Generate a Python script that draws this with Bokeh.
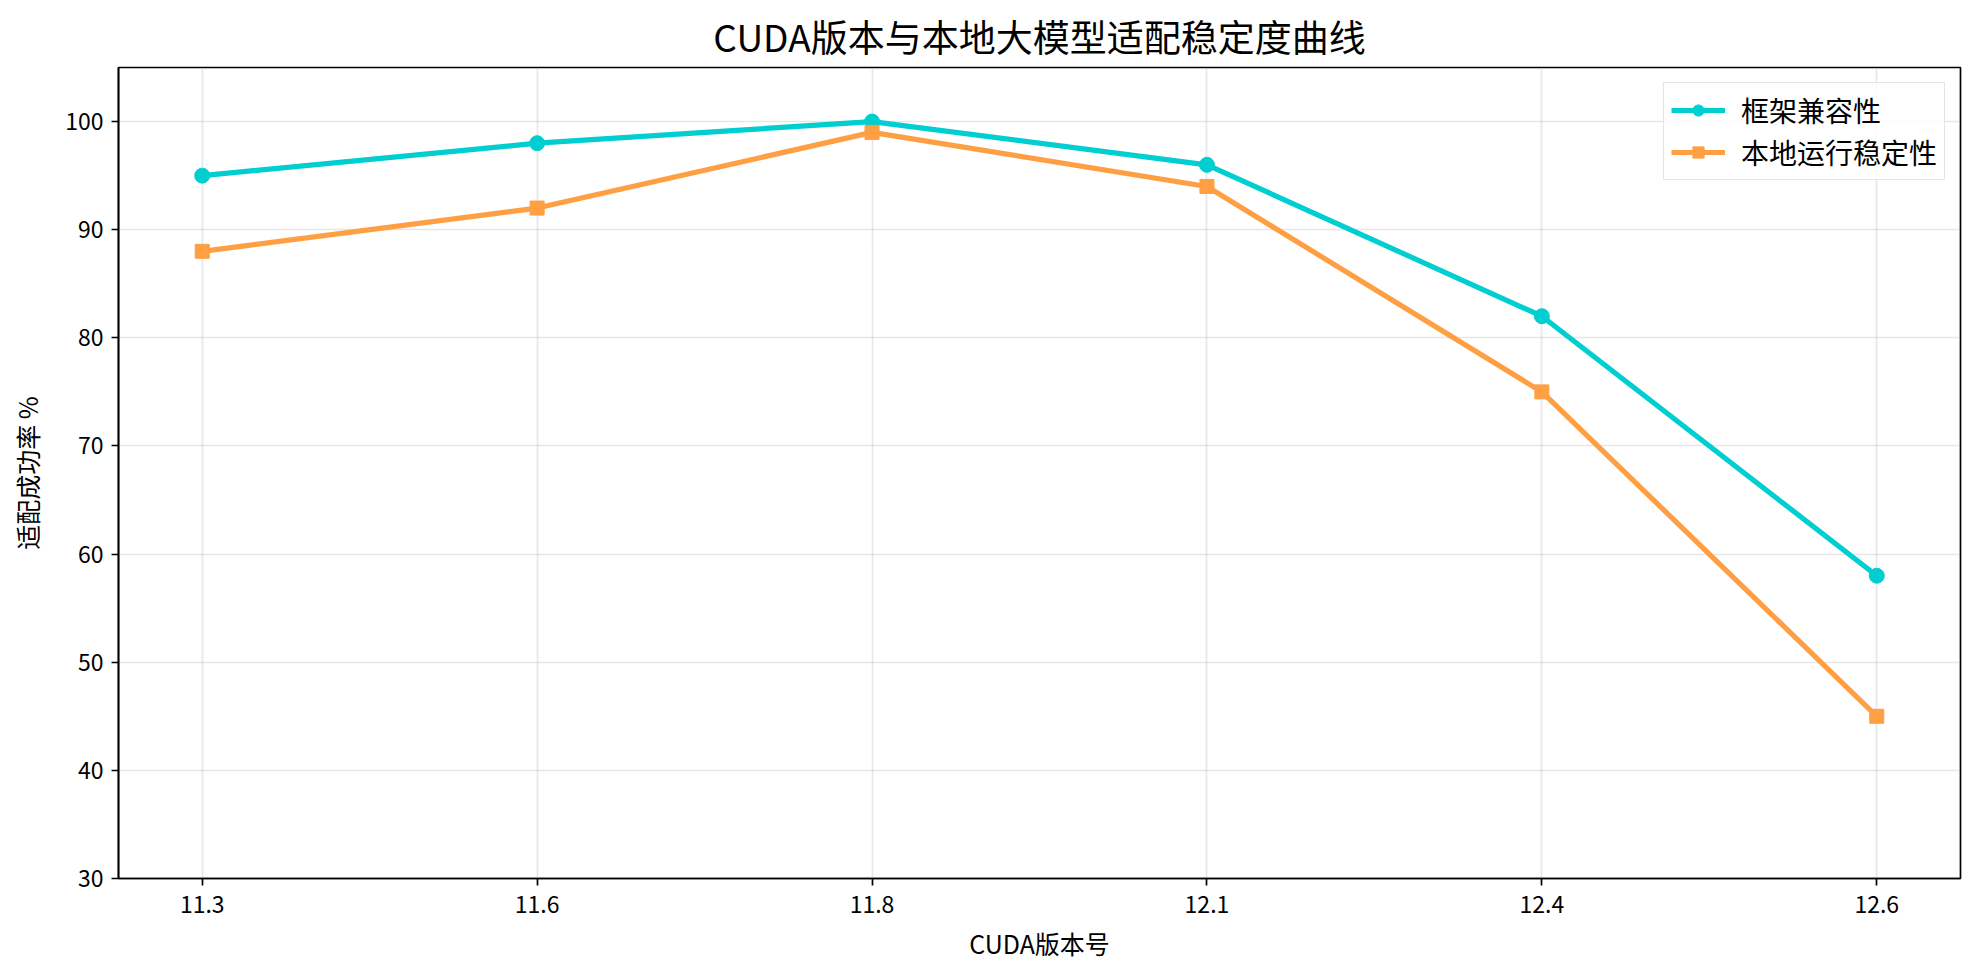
from bokeh.plotting import figure
from bokeh.models import Range1d, FixedTicker, Legend, LegendItem
from bokeh.embed import file_html
from bokeh.resources import INLINE

versions = ["11.3", "11.6", "11.8", "12.1", "12.4", "12.6"]
compat = [95, 98, 100, 96, 82, 58]
stability = [88, 92, 99, 94, 75, 45]
y_ticks = [30, 40, 50, 60, 70, 80, 90, 100]

title = "CUDA版本与本地大模型适配稳定度曲线"
x_label = "CUDA版本号"
y_label = "适配成功率 %"
name_a = "框架兼容性"
name_b = "本地运行稳定性"

FONT = "Noto Sans CJK SC"
CYAN = "#00CED1"
ORANGE = "#FF9F43"

idx = list(range(len(versions)))

p = figure(
    width=1963, height=961,
    frame_width=1842, frame_height=811,
    min_border_left=118, min_border_top=67, min_border_right=3, min_border_bottom=83,
    x_range=Range1d(-0.25, len(versions) - 0.75),
    y_range=Range1d(30, 105),
    output_backend="svg", toolbar_location=None,
    background_fill_color="white", border_fill_color="white",
)

p.title.text = title
p.title.align = "center"
p.title.text_font = FONT
p.title.text_font_size = "37px"
p.title.text_font_style = "normal"
p.title.text_color = "black"
p.title.standoff = 10

p.outline_line_color = "black"
p.outline_line_width = 1.7
p.outline_line_alpha = 1.0

for ax in (p.xaxis[0], p.yaxis[0]):
    ax.axis_line_color = "black"
    ax.axis_line_width = 1.7
    ax.major_tick_line_color = "black"
    ax.major_tick_line_width = 1.7
    ax.major_tick_out = 7
    ax.major_tick_in = 0
    ax.minor_tick_line_color = None
    ax.major_label_text_font = FONT
    ax.major_label_text_font_size = "23px"
    ax.major_label_text_color = "black"
    ax.axis_label_text_font = FONT
    ax.axis_label_text_font_size = "25px"
    ax.axis_label_text_font_style = "normal"
    ax.axis_label_text_color = "black"

p.xaxis[0].ticker = FixedTicker(ticks=idx)
p.xaxis[0].major_label_overrides = {i: v for i, v in zip(idx, versions)}
p.xaxis[0].major_label_standoff = 10
p.xaxis[0].axis_label = x_label
p.xaxis[0].axis_label_standoff = 9

p.yaxis[0].ticker = FixedTicker(ticks=y_ticks)
p.yaxis[0].major_label_standoff = 8
p.yaxis[0].axis_label = y_label
p.yaxis[0].axis_label_standoff = 17

for g in (p.xgrid[0], p.ygrid[0]):
    g.grid_line_color = "#b0b0b0"
    g.grid_line_alpha = 0.3
    g.grid_line_width = 1.6
p.xgrid[0].ticker = FixedTicker(ticks=idx)
p.ygrid[0].ticker = FixedTicker(ticks=y_ticks)

l1 = p.line(idx, compat, line_color=CYAN, line_width=5.2)
m1 = p.scatter(idx, compat, marker="circle", size=15, fill_color=CYAN, line_color=CYAN)
l2 = p.line(idx, stability, line_color=ORANGE, line_width=5.2)
m2 = p.scatter(idx, stability, marker="square", size=14, fill_color=ORANGE, line_color=ORANGE)

legend = Legend(
    items=[LegendItem(label=name_a, renderers=[l1, m1]),
           LegendItem(label=name_b, renderers=[l2, m2])],
    location="top_right",
    margin=15,
    padding=7,
    spacing=2,
    glyph_width=54,
    glyph_height=28,
    label_height=28,
    label_standoff=16,
    label_text_font=FONT,
    label_text_font_size="28px",
    label_text_color="black",
    border_line_color="#cccccc",
    border_line_width=1.6,
    background_fill_color="white",
    background_fill_alpha=0.8,
)
p.add_layout(legend, "center")

open("out.html", "w").write(file_html(p, INLINE))
